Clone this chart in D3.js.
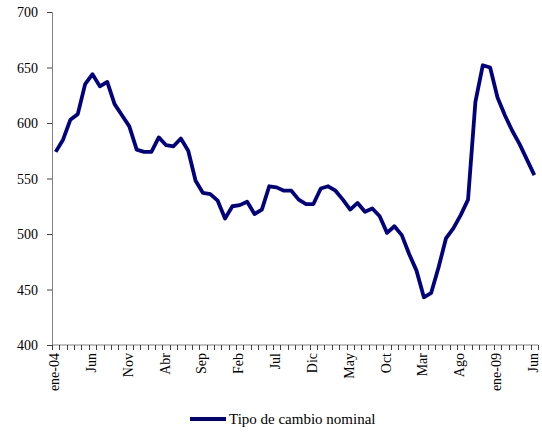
<!DOCTYPE html>
<html>
<head>
<meta charset="utf-8">
<script src="https://cdn.jsdelivr.net/npm/d3@7"></script>
<style>
  body { margin: 0; background: #fff; }
</style>
</head>
<body>
<svg id="chart" width="542" height="433"></svg>
<script>
// Monthly data, ene-04 .. jun-09
const months = d3.range(66); // category index per month
const tickLabels = ["ene-04", "Jun", "Nov", "Abr", "Sep", "Feb", "Jul", "Dic",
                    "May", "Oct", "Mar", "Ago", "ene-09", "Jun"];
const yTicks = [400, 450, 500, 550, 600, 650, 700];
const values = [
  574, 585, 603, 608, 635, 644, 633, 637, 617, 607, 597, 576,
  574, 574, 587, 580, 579, 586, 575, 548, 537, 536, 530, 514,
  525, 526, 529, 518, 522, 543, 542, 539, 539, 531, 527, 527,
  541, 543, 539, 531, 522, 528, 520, 523, 516, 501, 507, 499,
  482, 467, 443, 447, 470, 496, 505, 517, 531, 619, 652, 650,
  623, 607, 593, 581, 567, 553
];
const seriesName = "Tipo de cambio nominal";

const FONT = "'Liberation Serif', 'DejaVu Serif', serif";
const svg = d3.select("#chart")
  .attr("font-family", FONT);
const plotLeft = 52, plotRight = 538, plotTop = 12, plotBottom = 345;

const x = d3.scaleBand().domain(months).range([plotLeft, plotRight]);
const y = d3.scaleLinear().domain([400, 700]).range([plotBottom, plotTop]);

// y axis
const yAxis = svg.append("g")
  .attr("transform", `translate(${plotLeft},0)`)
  .call(d3.axisLeft(y).tickValues(yTicks).tickSize(5).tickPadding(9).tickFormat(d3.format("d")));
yAxis.attr("font-family", FONT).attr("font-size", 14);
yAxis.select(".domain").attr("stroke", "#808080");
yAxis.selectAll(".tick line").attr("stroke", "#404040");
yAxis.selectAll(".tick text").attr("fill", "#000").attr("dy", "0.35em");

// x axis: tick marks between months
const xg = svg.append("g");
xg.append("line")
  .attr("x1", plotLeft).attr("x2", plotRight)
  .attr("y1", plotBottom).attr("y2", plotBottom)
  .attr("stroke", "#808080");
xg.selectAll("line.tk")
  .data(months.concat([months.length]))
  .enter().append("line")
  .attr("class", "tk")
  .attr("x1", d => Math.round(plotLeft + d * x.bandwidth()) + 0.5)
  .attr("x2", d => Math.round(plotLeft + d * x.bandwidth()) + 0.5)
  .attr("y1", plotBottom)
  .attr("y2", plotBottom + 5)
  .attr("stroke", "#404040");

xg.selectAll("text")
  .data(tickLabels)
  .enter().append("text")
  .attr("transform", (d, i) => {
    const cx = x(i * 5) + x.bandwidth() / 2 + 3.5;
    return `translate(${cx},${plotBottom + 8}) rotate(-90)`;
  })
  .attr("text-anchor", "end")
  .attr("font-size", 14)
  .attr("fill", "#000")
  .text(d => d);

// series line
const line = d3.line()
  .x((d, i) => x(i) + x.bandwidth() / 2)
  .y(d => y(d));

svg.append("path")
  .datum(values)
  .attr("d", line)
  .attr("fill", "none")
  .attr("stroke", "#000080")
  .attr("stroke-width", 3.8)
  .attr("stroke-linejoin", "round");

// legend
const lg = svg.append("g").attr("transform", "translate(190,419)");
lg.append("line")
  .attr("x1", 0).attr("x2", 36)
  .attr("y1", 0).attr("y2", 0)
  .attr("stroke", "#000080")
  .attr("stroke-width", 3.8);
lg.append("text")
  .attr("x", 39)
  .attr("y", 5)
  .attr("font-size", 15)
  .attr("fill", "#000")
  .text(seriesName);
</script>
</body>
</html>
